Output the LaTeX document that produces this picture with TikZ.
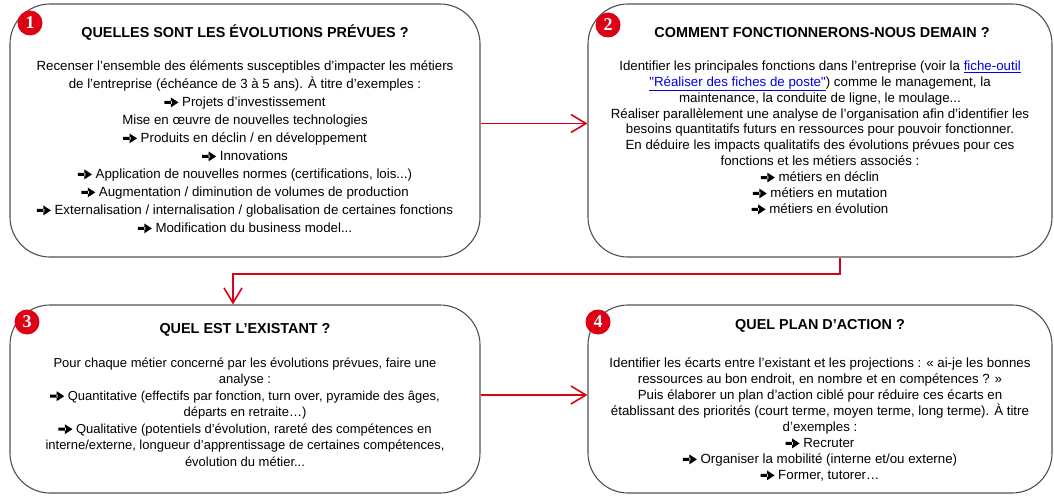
\documentclass[tikz,border=0pt]{standalone}
\usepackage{fontspec}
\setmainfont{Liberation Sans}[Ligatures=TeXOff]
\newfontfamily\chiffrefont{Liberation Serif}
\usetikzlibrary{arrows.meta}

\definecolor{rouge}{RGB}{222,0,20}
\definecolor{trait}{RGB}{80,80,80}
\definecolor{lien}{RGB}{0,0,230}

% petite fleche pleine devant les exemples
\newcommand{\fleche}{\tikz[x=1pt,y=1pt,baseline=0pt]\fill (0,2.6) rectangle (7.5,5.6) (6.5,-0.8) -- (14,4.1) -- (6.5,9) -- cycle;\ }
\newcommand{\lienfiche}[1]{\textcolor{lien}{\underline{#1}}}

\begin{document}
\begin{tikzpicture}[x=1pt,y=-1pt,
	etape/.style={draw=trait,line width=1.1pt,rounded corners=40pt,inner sep=0pt},
	titre/.style={font=\fontsize{14.4}{16}\selectfont\bfseries,inner sep=0pt},
	corps/.style={font=\fontsize{13.3}{18}\selectfont,align=center,anchor=north,inner sep=0pt},
	numero/.style={circle,fill=rouge,text=white,inner sep=0pt,minimum size=25pt,font=\fontsize{18}{18}\selectfont\chiffrefont\bfseries},
	liaison/.style={draw=rouge,line width=1.6pt,-{Straight Barb[length=15pt,width=18pt,line width=1.6pt]}}]
	\useasboundingbox (0,0) rectangle (1054,495);

	% les quatre etapes
	\node[etape,minimum width=470pt,minimum height=253pt] (e1) at (245,130.5) {};
	\node[etape,minimum width=464pt,minimum height=253pt] (e2) at (820,130.5) {};
	\node[etape,minimum width=470pt,minimum height=188pt] (e3) at (245,399) {};
	\node[etape,minimum width=464pt,minimum height=188pt] (e4) at (820,399) {};

	\node[numero] (n1) at (30,23) {1};
	\node[numero] (n2) at (608,25) {2};
	\node[numero] (n3) at (27,322) {3};
	\node[numero] (n4) at (598,322) {4};

	\node[titre] (t1) at (245,33) {QUELLES SONT LES ÉVOLUTIONS PRÉVUES ?};
	\node[titre] (t2) at (822,33) {COMMENT FONCTIONNERONS-NOUS DEMAIN ?};
	\node[titre] (t3) at (245,330) {QUEL EST L’EXISTANT ?};
	\node[titre] (t4) at (820,326) {QUEL PLAN D’ACTION ?};

	\node[corps] (c1) at (245,60.5) {Recenser l’ensemble des éléments susceptibles d’impacter les métiers\\
		de l’entreprise (échéance de 3 à 5 ans). À titre d’exemples :\\
		\fleche Projets d’investissement\\
		Mise en œuvre de nouvelles technologies\\
		\fleche Produits en déclin / en développement\\
		\fleche Innovations\\
		\fleche Application de nouvelles normes (certifications, lois...)\\
		\fleche Augmentation / diminution de volumes de production\\
		\fleche Externalisation / internalisation / globalisation de certaines fonctions\\
		\fleche Modification du business model...};
	\node[corps,font=\fontsize{13.3}{15.9}\selectfont] (c2) at (820,60.5) {Identifier les principales fonctions dans l’entreprise (voir la \lienfiche{fiche-outil}\\
		\lienfiche{"Réaliser des fiches de poste"}) comme le management, la\\
		maintenance, la conduite de ligne, le moulage...\\
		Réaliser parallèlement une analyse de l’organisation afin d’identifier les\\
		besoins quantitatifs futurs en ressources pour pouvoir fonctionner.\\
		En déduire les impacts qualitatifs des évolutions prévues pour ces\\
		fonctions et les métiers associés :\\
		\fleche métiers en déclin\\
		\fleche métiers en mutation\\
		\fleche métiers en évolution};
	\node[corps,font=\fontsize{13}{16.5}\selectfont] (c3) at (245,357.5) {Pour chaque métier concerné par les évolutions prévues, faire une\\
		analyse :\\
		\fleche Quantitative (effectifs par fonction, turn over, pyramide des âges,\\
		départs en retraite…)\\
		\fleche Qualitative (potentiels d’évolution, rareté des compétences en\\
		interne/externe, longueur d’apprentissage de certaines compétences,\\
		évolution du métier...};
	\node[corps,font=\fontsize{13.3}{16}\selectfont] (c4) at (820,357.5) {Identifier les écarts entre l’existant et les projections : « ai-je les bonnes\\
		ressources au bon endroit, en nombre et en compétences ? »\\
		Puis élaborer un plan d’action ciblé pour réduire ces écarts en\\
		établissant des priorités (court terme, moyen terme, long terme). À titre\\
		d’exemples :\\
		\fleche Recruter\\
		\fleche Organiser la mobilité (interne et/ou externe)\\
		\fleche Former, tutorer…};

	% enchainement des etapes
	\coordinate (coude) at (233,274);
	\draw[liaison] ([yshift=7pt]e1.east) -- ([yshift=7pt]e2.west);
	\draw[liaison] ([xshift=20pt]e2.south) |- (coude) -- (coude |- e3.north);
	\draw[liaison] ([yshift=4pt]e3.east) -- ([yshift=4pt]e4.west);
\end{tikzpicture}
\end{document}
